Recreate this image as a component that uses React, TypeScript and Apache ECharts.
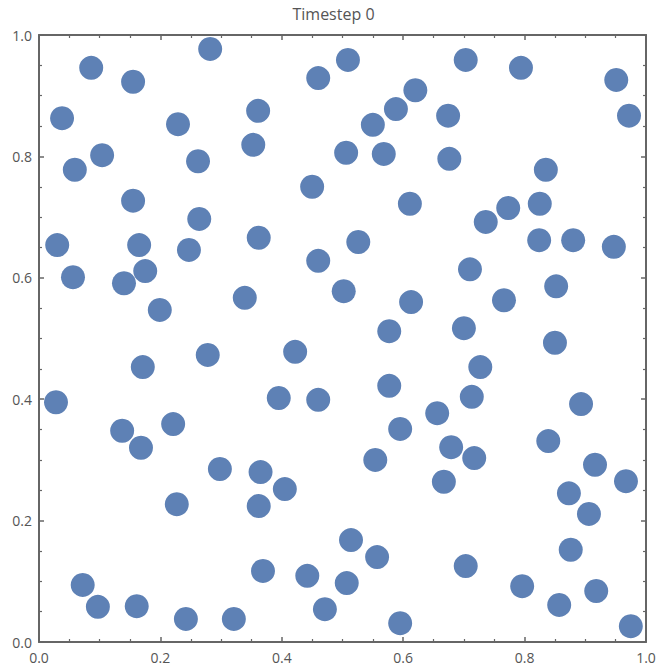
import React, { useEffect, useRef } from "react";
import * as echarts from "echarts";

const titleText = "Timestep 0";
const xs = [
  0.282, 0.086, 0.155, 0.460, 0.509, 0.703, 0.794, 0.951, 0.038, 0.229,
  0.361, 0.620, 0.588, 0.550, 0.674, 0.972, 0.104, 0.059, 0.262, 0.353,
  0.506, 0.568, 0.676, 0.835, 0.450, 0.155, 0.611, 0.773, 0.825, 0.736,
  0.264, 0.030, 0.165, 0.247, 0.362, 0.526, 0.824, 0.880, 0.947, 0.056,
  0.175, 0.140, 0.460, 0.710, 0.852, 0.199, 0.339, 0.502, 0.613, 0.766,
  0.577, 0.700, 0.850, 0.278, 0.171, 0.422, 0.727, 0.028, 0.577, 0.395,
  0.460, 0.713, 0.893, 0.656, 0.137, 0.221, 0.595, 0.168, 0.679, 0.839,
  0.554, 0.717, 0.298, 0.365, 0.916, 0.667, 0.967, 0.405, 0.873, 0.227,
  0.362, 0.906, 0.514, 0.557, 0.876, 0.369, 0.442, 0.703, 0.072, 0.507,
  0.796, 0.918, 0.097, 0.161, 0.471, 0.857, 0.242, 0.321, 0.595, 0.975,
];
const ys = [
  0.977, 0.946, 0.923, 0.929, 0.959, 0.959, 0.946, 0.926, 0.863, 0.853,
  0.875, 0.909, 0.878, 0.852, 0.867, 0.867, 0.802, 0.778, 0.792, 0.819,
  0.806, 0.804, 0.796, 0.778, 0.750, 0.727, 0.722, 0.715, 0.722, 0.692,
  0.697, 0.654, 0.654, 0.646, 0.666, 0.659, 0.662, 0.662, 0.651, 0.601,
  0.611, 0.591, 0.628, 0.614, 0.586, 0.547, 0.567, 0.578, 0.560, 0.563,
  0.512, 0.517, 0.493, 0.473, 0.453, 0.478, 0.453, 0.395, 0.422, 0.402,
  0.399, 0.404, 0.392, 0.377, 0.348, 0.359, 0.351, 0.320, 0.321, 0.331,
  0.300, 0.303, 0.285, 0.280, 0.292, 0.264, 0.265, 0.252, 0.245, 0.227,
  0.224, 0.211, 0.168, 0.140, 0.152, 0.117, 0.109, 0.125, 0.094, 0.097,
  0.092, 0.084, 0.058, 0.059, 0.054, 0.061, 0.038, 0.038, 0.031, 0.026,
];

const AXIS_COLOR = "#666666";
const LABEL_COLOR = "#555555";
const FONT = "Open Sans";

function axisCommon(showLabels: boolean) {
  return {
    type: "value" as const,
    min: 0,
    max: 1,
    interval: 0.2,
    axisLine: { show: true, onZero: false, lineStyle: { color: AXIS_COLOR, width: 2 } },
    axisTick: { show: true, inside: true, length: 5, lineStyle: { color: AXIS_COLOR, width: 1.5 } },
    minorTick: { show: true, splitNumber: 4, length: 3, lineStyle: { color: AXIS_COLOR, width: 1.2 } },
    splitLine: { show: false },
    axisLabel: {
      show: showLabels,
      color: LABEL_COLOR,
      fontFamily: FONT,
      fontSize: 14,
      formatter: (v: number) => v.toFixed(1),
    },
  };
}

export default function App() {
  const ref = useRef<HTMLDivElement>(null);
  useEffect(() => {
    if (!ref.current) return;
    const chart = echarts.init(ref.current, undefined, { renderer: "svg" });
    const data = xs.map((x, i) => [x, ys[i]]);
    chart.setOption({
      animation: false,
      backgroundColor: "#ffffff",
      title: {
        text: titleText,
        left: "center",
        top: 1,
        textStyle: { color: LABEL_COLOR, fontFamily: FONT, fontSize: 16, fontWeight: "normal" },
      },
      grid: { left: 39, right: 21, top: 35, bottom: 25, containLabel: false },
      xAxis: [
        { ...axisCommon(true), position: "bottom", axisLabel: { ...axisCommon(true).axisLabel, margin: 8 } },
        { ...axisCommon(false), position: "top" },
      ],
      yAxis: [
        { ...axisCommon(true), position: "left", axisLabel: { ...axisCommon(true).axisLabel, margin: 7 } },
        { ...axisCommon(false), position: "right" },
      ],
      series: [
        {
          type: "scatter",
          data,
          symbol: "circle",
          symbolSize: 24,
          itemStyle: { color: "#5E81B5", opacity: 1 },
          xAxisIndex: 0,
          yAxisIndex: 0,
        },
      ],
    });
    return () => chart.dispose();
  }, []);
  return (
    <div
      ref={ref}
      style={{ position: "fixed", left: 0, top: 0, width: 667, height: 667, background: "#fff" }}
    />
  );
}
